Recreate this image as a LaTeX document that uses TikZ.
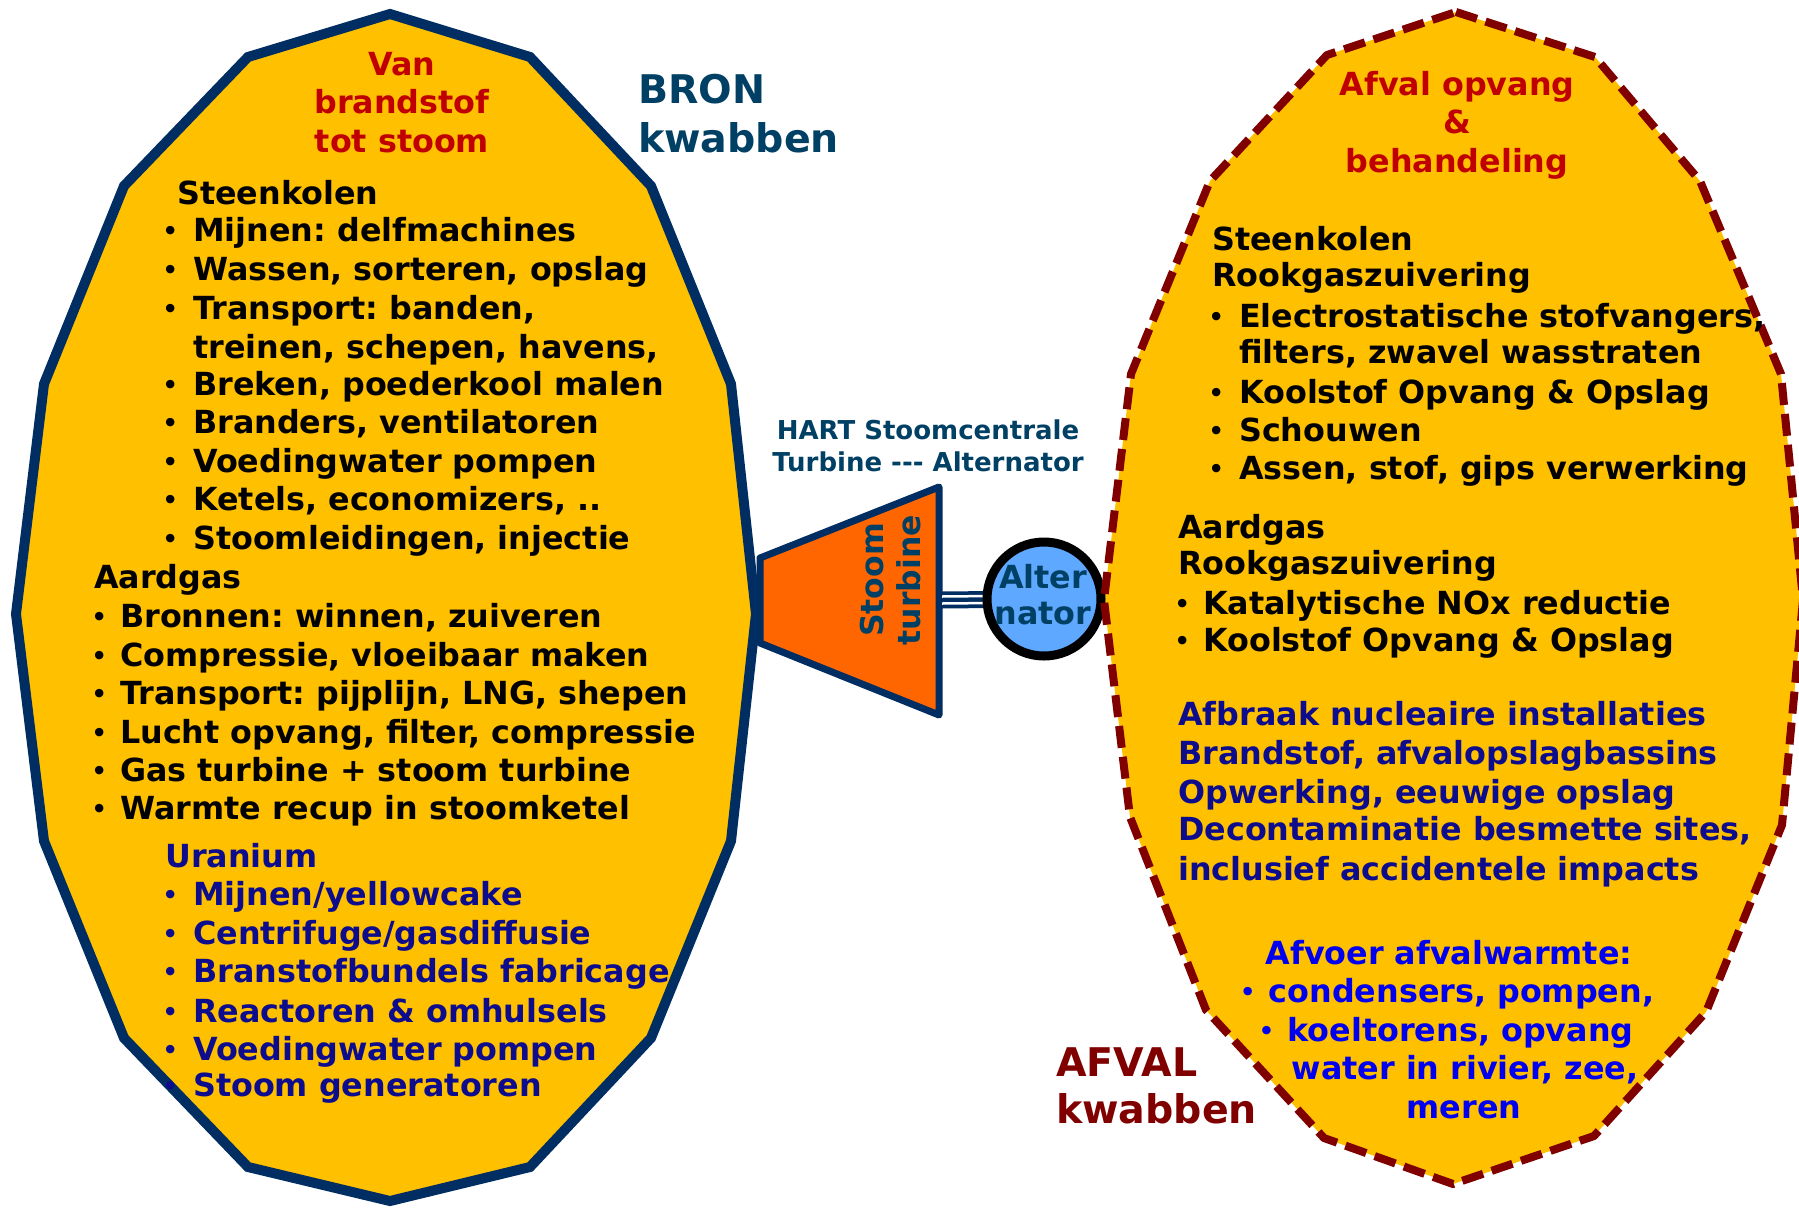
\documentclass[tikz,border=0pt]{standalone}
\usepackage{fontspec}
\setmainfont{DejaVu Sans}
\frenchspacing
\definecolor{yel}{HTML}{FFC000}
\definecolor{navy}{RGB}{0,45,98}
\definecolor{turb}{HTML}{FF6600}
\definecolor{altb}{HTML}{5FA8FF}
\definecolor{teal}{RGB}{0,64,100}
\definecolor{hred}{HTML}{C00000}
\definecolor{dred}{HTML}{800000}
\definecolor{udark}{RGB}{12,12,140}
\definecolor{ubright}{RGB}{0,0,238}
\newcommand\bdot{\makebox[0pt]{\raisebox{2pt}{\fontsize{24}{24}\selectfont •}}}
\newcommand\bli{\bdot\hspace{23pt}}
\newcommand\blj{\bdot\hspace{21pt}}
\begin{document}
\begin{tikzpicture}[x=1pt,y=-1pt,
  tx/.style={inner sep=0pt, text height=23.5pt, text depth=0pt, font=\bfseries\fontsize{31.8}{31.8}\selectfont},
  ln/.style={tx, anchor=west},
  cn/.style={tx, anchor=center},
  big/.style={inner sep=0pt, anchor=west, text height=29pt, text depth=0pt, font=\bfseries\fontsize{39.5}{39.5}\selectfont},
  hart/.style={inner sep=0pt, text height=19pt, text depth=0pt, font=\bfseries\fontsize{26}{26}\selectfont, text=teal},
  lobe/.style={fill=yel},
]
\useasboundingbox (0,0) rectangle (1799,1210);
\fill[white] (0,0) rectangle (1799,1210);

% left lobe
\draw[lobe, draw=navy, line width=10pt, line join=miter]
 (390,14) -- (530,57) -- (651,186) -- (731,384) -- (756,614) -- (731,841) -- (651,1038) -- (530,1167) -- (390,1201) -- (248,1167) -- (124,1038) -- (44,841) -- (16,614) -- (44,384) -- (124,186) -- (248,57) -- cycle;

% right lobe fill
\def\rpoly{(1456,12) -- (1595,57) -- (1700,181) -- (1781,374) -- (1803,600) -- (1782,825) -- (1706,1012) -- (1594,1136) -- (1453,1184) -- (1324,1138) -- (1206,1010) -- (1130,817) -- (1104,600) -- (1131,374) -- (1210,181) -- (1327,55) -- cycle}
\fill[yel] \rpoly;

% turbine
\draw[fill=turb, draw=navy, line width=7pt, line join=round]
 (760,558) -- (939,487) -- (939,715) -- (760,643) -- cycle;
\node[inner sep=0pt, rotate=90, align=center, text=teal, font=\bfseries\fontsize{31.5}{37}\selectfont] (stoom) at (891,580) {Stoom\\turbine};

% shaft
\coordinate (shL) at (942,600);
\coordinate (altc) at (1044,599);
\draw[navy, line width=17pt] (shL) -- (altc);
\draw[white, line width=2.5pt] ([yshift=-3.5pt]shL) -- ([yshift=-3.5pt]altc);
\draw[white, line width=2.5pt] ([yshift=3.5pt]shL) -- ([yshift=3.5pt]altc);
\node[circle, draw=black, fill=altb, line width=9pt, minimum size=114pt, inner sep=0pt] (alt) at (altc) {};
\node[cn, text=teal] (alt1) at (1043,577) {Alter};
\node[cn, text=teal] (alt2) at (1043,613) {nator};

% right lobe outline
\draw[dred, line width=8pt, dash pattern=on 22pt off 9pt, line join=round] \rpoly;

% heart labels
\node[hart, anchor=center] (h1) at (928,430) {HART Stoomcentrale};
\node[hart, anchor=center] (h2) at (928,462) {Turbine -{}-{}- Alternator};

% BRON / AFVAL
\node[big, text=teal] (b1) at (638,89) {BRON};
\node[big, text=teal] (b2) at (638,138) {kwabben};
\node[big, text=dred] (a1) at (1056,1062) {AFVAL};
\node[big, text=dred] (a2) at (1056,1109) {kwabben};

% left lobe texts
\node[cn, text=hred] (lr1) at (402,64) {Van};
\node[cn, text=hred] (lr2) at (402,102) {brandstof};
\node[cn, text=hred] (lr3) at (402,141) {tot stoom};

\node[ln] (s0) at (177,193) {Steenkolen};
\node[ln] (s1) at (170,229.5) {\bli Mijnen: delfmachines};
\node[ln] (s2) at (170,268.5) {\bli Wassen, sorteren, opslag};
\node[ln] (s3) at (170,307.5) {\bli Transport: banden,};
\node[ln] (s4) at (193,346.5) {treinen, schepen, havens,};
\node[ln] (s5) at (170,384) {\bli Breken, poederkool malen};
\node[ln] (s6) at (170,422) {\bli Branders, ventilatoren};
\node[ln] (s7) at (170,461) {\bli Voedingwater pompen};
\node[ln] (s8) at (170,499) {\bli Ketels, economizers, ..};
\node[ln] (s9) at (170,538) {\bli Stoomleidingen, injectie};

\node[ln] (g0) at (94,577) {Aardgas};
\node[ln] (g1) at (99,616) {\blj Bronnen: winnen, zuiveren};
\node[ln] (g2) at (99,655) {\blj Compressie, vloeibaar maken};
\node[ln] (g3) at (99,693) {\blj Transport: pijplijn, LNG, shepen};
\node[ln] (g4) at (99,732) {\blj Lucht opvang, filter, compressie};
\node[ln] (g5) at (99,770) {\blj Gas turbine + stoom turbine};
\node[ln] (g6) at (99,808) {\blj Warmte recup in stoomketel};

\node[ln, text=udark] (u0) at (165,856) {Uranium};
\node[ln, text=udark] (u1) at (170,894) {\bli Mijnen/yellowcake};
\node[ln, text=udark] (u2) at (170,933) {\bli Centrifuge/gasdiffusie};
\node[ln, text=udark] (u3) at (170,971) {\bli Branstofbundels fabricage};
\node[ln, text=udark] (u4) at (170,1011) {\bli Reactoren \& omhulsels};
\node[ln, text=udark] (u5) at (170,1049) {\bli Voedingwater pompen};
\node[ln, text=udark] (u6) at (170,1085) {\bli Stoom generatoren};

% right lobe texts
\node[cn, text=hred] (rr1) at (1457,84) {Afval opvang};
\node[cn, text=hred] (rr2) at (1457,122) {\&};
\node[cn, text=hred] (rr3) at (1457,161) {behandeling};

\node[ln] (k0) at (1212,239) {Steenkolen};
\node[ln] (k1) at (1212,275) {Rookgaszuivering};
\node[ln] (k2) at (1216,315.5) {\bli Electrostatische stofvangers,};
\node[ln] (k3) at (1239,352) {filters, zwavel wasstraten};
\node[ln] (k4) at (1216,392) {\bli Koolstof Opvang \& Opslag};
\node[ln] (k5) at (1216,430) {\bli Schouwen};
\node[ln] (k6) at (1216,468) {\bli Assen, stof, gips verwerking};

\node[ln] (n0) at (1178,527) {Aardgas};
\node[ln] (n1) at (1178,563) {Rookgaszuivering};
\node[ln] (n2) at (1182,603) {\blj Katalytische NOx reductie};
\node[ln] (n3) at (1182,640) {\blj Koolstof Opvang \& Opslag};

\node[ln, text=udark] (d1) at (1178,714) {Afbraak nucleaire installaties};
\node[ln, text=udark] (d2) at (1178,753) {Brandstof, afvalopslagbassins};
\node[ln, text=udark] (d3) at (1178,792) {Opwerking, eeuwige opslag};
\node[ln, text=udark] (d4) at (1178,829) {Decontaminatie besmette sites,};
\node[ln, text=udark] (d5) at (1178,869) {inclusief accidentele impacts};

\node[cn, text=ubright] (w1) at (1449,953) {Afvoer afvalwarmte:};
\node[cn, text=ubright] (w2) at (1451,991) {\blj condensers, pompen,};
\node[cn, text=ubright] (w3) at (1450,1030) {\blj koeltorens, opvang};
\node[cn, text=ubright] (w4) at (1465,1068) {water in rivier, zee,};
\node[cn, text=ubright] (w5) at (1464,1107) {meren};
\end{tikzpicture}
\end{document}
